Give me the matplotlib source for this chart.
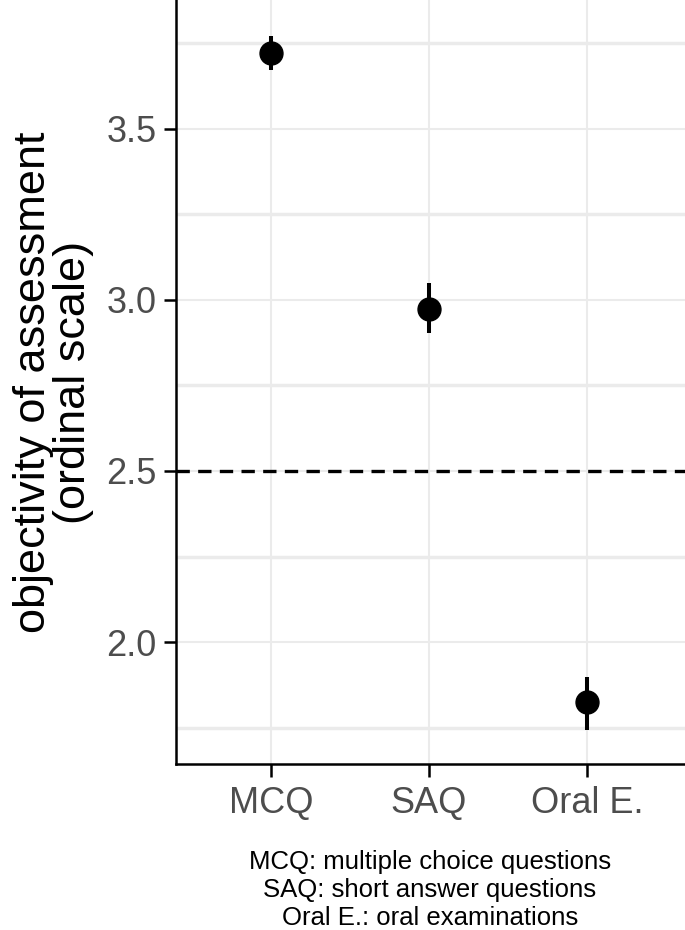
import numpy as np
import matplotlib.pyplot as plt

# data
formats = ['MCQ', 'SAQ', 'Oral E.']
means = [3.722, 2.974, 1.825]
lower = [3.672, 2.903, 1.743]
upper = [3.771, 3.050, 1.898]
chance_level = 2.5

plt.rcParams['font.family'] = ['Liberation Sans', 'DejaVu Sans']

fig = plt.figure(figsize=(6.85, 9.30), dpi=100)
ax = fig.add_axes([176/685, (930-764)/930, 1 - 176/685, 764/930])

x = np.arange(1, len(formats) + 1)
m = np.array(means)
yerr = np.vstack([m - np.array(lower), np.array(upper) - m])

ax.axhline(chance_level, color='black', linestyle=(0, (4, 2.5)), linewidth=2.4, zorder=2)
ax.errorbar(x, m, yerr=yerr, fmt='o', color='black', markersize=16.5,
            elinewidth=2.9, capsize=0, zorder=3)

ax.set_xlim(0.4, 3.62)
ax.set_ylim(1.644, 3.876)
ax.set_xticks(x)
ax.set_xticklabels(formats)
ax.set_yticks([2.0, 2.5, 3.0, 3.5])
ax.set_yticks([1.75, 2.25, 2.75, 3.25, 3.75], minor=True)
ax.yaxis.set_major_formatter(plt.FormatStrFormatter('%.1f'))

ax.grid(True, which='major', color='#EBEBEB', linewidth=1.5, zorder=0)
ax.grid(True, which='minor', axis='y', color='#EBEBEB', linewidth=2.5, zorder=0)
ax.set_axisbelow(True)

for s in ['top', 'right']:
    ax.spines[s].set_visible(False)
for s in ['left', 'bottom']:
    ax.spines[s].set_linewidth(1.8)
ax.tick_params(which='major', length=9, width=1.8, color='black',
               labelsize=26, labelcolor='#4D4D4D', pad=5)
ax.tick_params(axis='x', pad=7)
ax.tick_params(which='minor', length=0)

ax.set_ylabel('objectivity of assessment\n(ordinal scale)', fontsize=32.5,
              linespacing=0.95, labelpad=9)

fig.text(430/685, 1 - 890/930, 'MCQ: multiple choice questions\nSAQ: short answer questions\nOral E.: oral examinations',
         ha='center', va='center', fontsize=18.5, linespacing=1.2)

fig.savefig('out.png', dpi=100)
